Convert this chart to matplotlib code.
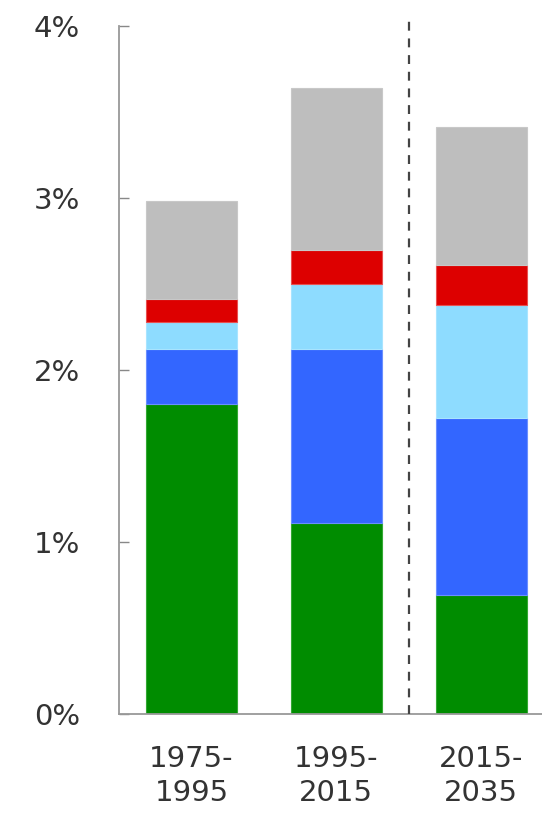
import matplotlib
matplotlib.use("Agg")
import matplotlib.pyplot as plt
import numpy as np

periods = ["1975-\n1995", "1995-\n2015", "2015-\n2035"]
green = [1.80, 1.11, 0.69]
blue = [0.32, 1.01, 1.03]
light_blue = [0.16, 0.38, 0.66]
red = [0.13, 0.20, 0.23]
gray = [0.57, 0.94, 0.80]

series = [green, blue, light_blue, red, gray]
colors = ["#008C00", "#3366FF", "#8EDCFF", "#DD0000", "#BEBEBE"]
edge_colors = ["#33A833", "#6A8FFF", "#A8E4FF", "#E85050", "#C8C8C8"]

yticks = [0, 1, 2, 3, 4]
ytick_labels = ["0%", "1%", "2%", "3%", "4%"]

plt.rcParams["font.family"] = ["DejaVu Sans"]

fig = plt.figure(figsize=(5.42, 8.16), dpi=100)
ax = fig.add_axes([119 / 542, 1 - 714 / 816, 1 - 119 / 542, (714 - 26) / 816])

x = np.arange(len(periods))
bottom = np.zeros(len(periods))
for vals, c, ec in zip(series, colors, edge_colors):
    ax.bar(x, vals, width=0.63, bottom=bottom, color=c, edgecolor=ec,
           linewidth=0.8, zorder=2)
    bottom += np.array(vals)

ax.plot([1.5, 1.5], [0, 4.03], linestyle=(0, (4, 3.5)), color="#444444",
        linewidth=1.6, clip_on=False, zorder=3)

ax.set_xlim(-0.5, 2.42)
ax.set_ylim(0, 4)
ax.set_yticks(yticks)
ax.set_yticklabels(ytick_labels)
ax.set_xticks(x)
ax.set_xticklabels(periods, linespacing=1.3)

for side in ["top", "right"]:
    ax.spines[side].set_visible(False)
for side in ["left", "bottom"]:
    ax.spines[side].set_color("#999999")
    ax.spines[side].set_linewidth(1.3)

ax.tick_params(axis="y", direction="in", length=7, width=1, color="#888888",
               labelsize=21, labelcolor="#333333", pad=28)
ax.tick_params(axis="x", length=0, labelsize=21, labelcolor="#333333", pad=22)

fig.savefig("out.png", dpi=100)
